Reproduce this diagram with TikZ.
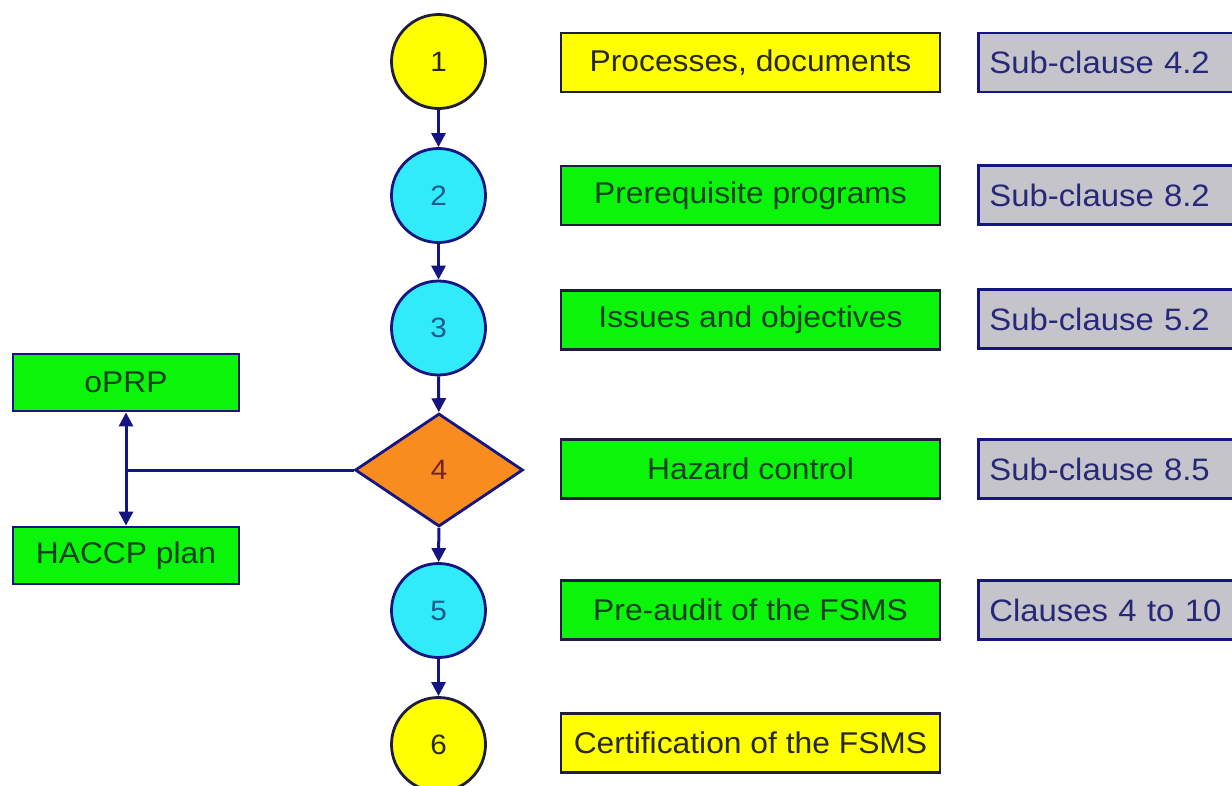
\documentclass[tikz,border=0pt]{standalone}
\usepackage{fontspec}
\setmainfont{Liberation Sans}[FakeStretch=1.06]
\usetikzlibrary{shapes.geometric,arrows.meta}
\definecolor{navy}{RGB}{20,20,130}
\definecolor{edge}{RGB}{30,30,60}
\definecolor{fyellow}{RGB}{255,255,0}
\definecolor{fcyan}{RGB}{50,235,250}
\definecolor{fgreen}{RGB}{10,245,10}
\definecolor{forange}{RGB}{248,140,30}
\definecolor{fgray}{RGB}{196,196,202}
\definecolor{tyellow}{RGB}{40,40,20}
\definecolor{tgreen}{RGB}{20,65,35}
\definecolor{tcyan}{RGB}{30,90,140}
\definecolor{tgray}{RGB}{40,40,120}
\definecolor{torange}{RGB}{115,35,40}
\begin{document}
\begin{tikzpicture}[x=1pt,y=-1pt,
  stepnum/.style={circle,draw=edge,line width=2.8pt,minimum size=94pt,inner sep=0pt,font=\fontsize{28}{32}\selectfont},
  ycirc/.style={stepnum,fill=fyellow,text=tyellow},
  ccirc/.style={stepnum,fill=fcyan,draw=navy,text=tcyan},
  tbox/.style={rectangle,draw=edge,line width=2.8pt,minimum width=379pt,minimum height=59pt,inner sep=0pt,font=\fontsize{30}{34}\selectfont},
  ybox/.style={tbox,fill=fyellow,text=tyellow},
  gbox/.style={tbox,fill=fgreen,text=tgreen},
  sbox/.style={rectangle,draw=navy,line width=2.8pt,fill=fgray,text=tgray,anchor=west,minimum height=59pt,text width=258pt,inner xsep=11pt,inner ysep=0pt,align=left,font=\fontsize{31}{35}\selectfont},
  lbox/.style={rectangle,draw=navy,line width=2.8pt,fill=fgreen,text=tgreen,minimum width=226pt,minimum height=57pt,inner sep=0pt,font=\fontsize{30}{34}\selectfont},
  conn/.style={draw=navy,line width=3pt},
  arr/.style={conn,-{Triangle[length=14pt,width=14pt]}},
  darr/.style={conn,{Triangle[length=14pt,width=14pt]}-{Triangle[length=14pt,width=14pt]}}
]
\useasboundingbox[fill=white] (0,0) rectangle (1232,785);

% flow column
\node[ycirc] (c1) at (438.5,61.5) {1};
\node[ccirc] (c2) at (438.5,195.5) {2};
\node[ccirc] (c3) at (438.5,328) {3};
\node[diamond,draw=navy,line width=2.8pt,fill=forange,text=torange,minimum width=168pt,minimum height=113pt,inner sep=0pt,font=\fontsize{28}{32}\selectfont] (d4) at (439,470) {4};
\node[ccirc] (c5) at (438.5,610.5) {5};
\node[ycirc] (c6) at (438.5,744.5) {6};

\draw[arr] (c1) -- (c2);
\draw[arr] (c2) -- (c3);
\draw[arr] (c3) -- (d4);
\draw[arr] (d4) -- (c5);
\draw[arr] (c5) -- (c6);

% description boxes
\node[ybox] (b1) at (750.5,62.5) {Processes, documents};
\node[gbox] (b2) at (750.5,195.5) {Prerequisite programs};
\node[gbox] (b3) at (750.5,320) {Issues and objectives};
\node[gbox] (b4) at (750.5,469) {Hazard control};
\node[gbox] (b5) at (750.5,610) {Pre-audit of the FSMS};
\node[ybox] (b6) at (750.5,743) {Certification of the FSMS};

% clause boxes
\node[sbox] (s1) at (977,62.5) {Sub-clause 4.2};
\node[sbox] (s2) at (977,195) {Sub-clause 8.2};
\node[sbox] (s3) at (977,319) {Sub-clause 5.2};
\node[sbox] (s4) at (977,469) {Sub-clause 8.5};
\node[sbox] (s5) at (977,610) {Clauses 4 to 10};

% left branch
\node[lbox] (op) at (126,382.5) {oPRP};
\node[lbox] (hp) at (126,555.5) {HACCP plan};
\coordinate (j) at (126,470);
\draw[conn] (d4.west) -- (j);
\draw[darr] (op.south) -- (hp.north);
\end{tikzpicture}
\end{document}
